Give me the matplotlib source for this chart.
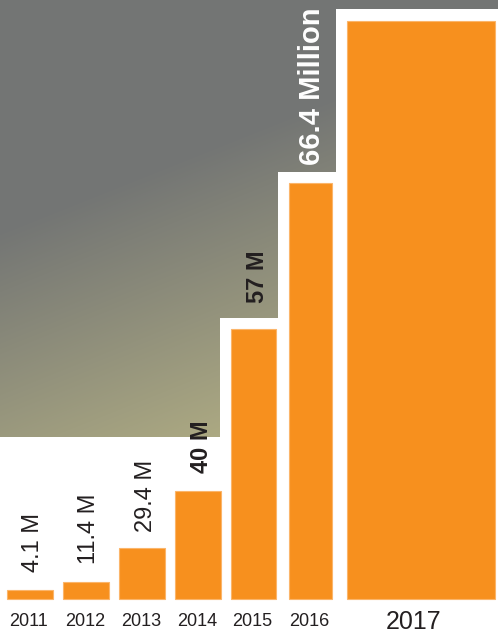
import numpy as np
import matplotlib
matplotlib.use("Agg")
import matplotlib.pyplot as plt
from matplotlib.patches import Polygon

# data (bar heights are display heights, the chart is not to scale)
years = ["2011", "2012", "2013", "2014", "2015", "2016", "2017"]
heights = [8.5, 16.5, 50.5, 107.5, 269.5, 415.5, 577.5]
value_labels = ["4.1 M", "11.4 M", "29.4 M", "40 M", "57 M", "66.4 Million", ""]

# layout (pixel-like units, figure is 498 x 635)
W, H = 498, 635
base_px = 598.5
centers = [30, 86, 142, 198, 253.5, 310.5, 421]
widths = [46, 46, 46, 46, 45, 43, 148]
label_dx = [3, 3, 4, 3, 4, 1, 0]
label_pad = [18, 18, 16, 18, 26, 18, 0]
label_size = [17, 17, 17, 17, 17, 21, 17]
label_weight = ["normal", "normal", "normal", "bold", "bold", "bold", "normal"]
label_color = ["#231f20"] * 5 + ["white", "#231f20"]

orange = "#f7901e"
dark = "#231f20"

plt.rcParams["font.family"] = ["Liberation Sans", "DejaVu Sans"]

fig = plt.figure(figsize=(W / 100, H / 100), dpi=100)
ax = fig.add_axes([0, 0, 1, 1])
ax.set_xlim(0, W)
ax.set_ylim(base_px - H, base_px)
ax.axis("off")

# gradient backdrop, stepped around the last three bars
gap = 11
steps = [(0, 161.5)]
for i in (4, 5, 6):
    left = centers[i] - widths[i] / 2 - gap
    steps.append((left, steps[-1][1]))
    steps.append((left, heights[i] + gap + (1 if i == 6 else 0)))
verts = [(0, base_px), (W, base_px), (W, steps[-1][1])] + steps[::-1]
clip = Polygon(verts, closed=True, facecolor="none", edgecolor="none",
               transform=ax.transData)
ax.add_patch(clip)

xs = np.arange(W) + 0.5
ys = np.arange(H) + 0.5
X, Y = np.meshgrid(xs, ys)
t = np.clip((0.4 * X + Y - 230) / 290, 0, 1)
c0 = np.array([0x73, 0x75, 0x74]) / 255
c1 = np.array([0xab, 0xa8, 0x82]) / 255
img = c0 + (c1 - c0) * t[..., None]
im = ax.imshow(img, extent=(0, W, base_px - H, base_px), origin="upper",
               aspect="auto", zorder=0)
im.set_clip_path(clip)

# bars
ax.bar(centers, heights, width=widths, bottom=0, color=orange,
       edgecolor="#fbb56a", linewidth=0.8, zorder=2)

# value labels
for i, lab in enumerate(value_labels):
    if not lab:
        continue
    ax.text(centers[i] + label_dx[i], heights[i] + label_pad[i], lab,
            rotation=90, ha="center", va="bottom", fontsize=label_size[i],
            fontweight=label_weight[i], color=label_color[i], zorder=3)

# year labels
for i, yr in enumerate(years):
    big = i == len(years) - 1
    ax.text(centers[i] - (7 if big else 1), -23.5 if big else -23, yr,
            ha="center", va="center", fontsize=18 if big else 13, color=dark)

fig.savefig("out.png", dpi=100)
